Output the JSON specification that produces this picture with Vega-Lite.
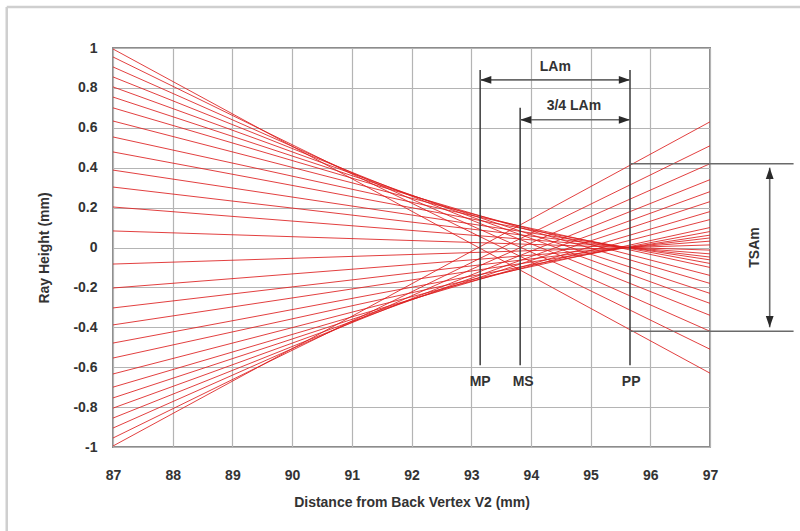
{
  "$schema": "https://vega.github.io/schema/vega-lite/v6.json",
  "autosize": {"type": "none"},
  "width": 597,
  "height": 399,
  "padding": {"left": 113, "top": 48, "right": 90, "bottom": 84},
  "background": "white",
  "config": {
    "view": {"stroke": "#8c8c8c", "strokeWidth": 2},
    "font": "Liberation Sans",
    "axis": {
      "grid": true, "gridColor": "#b4b4b4", "gridWidth": 1.2, "gridOpacity": 1,
      "ticks": false, "domain": false, "labelOverlap": false,
      "labelFont": "Liberation Sans", "labelFontWeight": "bold", "labelFontSize": 14, "labelColor": "#333333",
      "titleFont": "Liberation Sans", "titleFontWeight": "bold", "titleFontSize": 14, "titleColor": "#333333"
    }
  },
  "datasets": {
    "rays": [
      {"ray": "u1", "x": 87, "y": 0.995, "x2": 97, "y2": -0.63},
      {"ray": "u2", "x": 87, "y": 0.955, "x2": 97, "y2": -0.51},
      {"ray": "u3", "x": 87, "y": 0.905, "x2": 97, "y2": -0.42},
      {"ray": "u4", "x": 87, "y": 0.855, "x2": 97, "y2": -0.34},
      {"ray": "u5", "x": 87, "y": 0.805, "x2": 97, "y2": -0.28},
      {"ray": "u6", "x": 87, "y": 0.754, "x2": 97, "y2": -0.23},
      {"ray": "u7", "x": 87, "y": 0.70, "x2": 97, "y2": -0.18},
      {"ray": "u8", "x": 87, "y": 0.634, "x2": 97, "y2": -0.14},
      {"ray": "u9", "x": 87, "y": 0.554, "x2": 97, "y2": -0.10},
      {"ray": "u10", "x": 87, "y": 0.479, "x2": 97, "y2": -0.08},
      {"ray": "u11", "x": 87, "y": 0.388, "x2": 97, "y2": -0.062},
      {"ray": "u12", "x": 87, "y": 0.303, "x2": 97, "y2": -0.048},
      {"ray": "u13", "x": 87, "y": 0.203, "x2": 97, "y2": -0.032},
      {"ray": "u14", "x": 87, "y": 0.083, "x2": 97, "y2": -0.013},
      {"ray": "l1", "x": 87, "y": -0.995, "x2": 97, "y2": 0.63},
      {"ray": "l2", "x": 87, "y": -0.955, "x2": 97, "y2": 0.51},
      {"ray": "l3", "x": 87, "y": -0.905, "x2": 97, "y2": 0.42},
      {"ray": "l4", "x": 87, "y": -0.855, "x2": 97, "y2": 0.34},
      {"ray": "l5", "x": 87, "y": -0.805, "x2": 97, "y2": 0.28},
      {"ray": "l6", "x": 87, "y": -0.754, "x2": 97, "y2": 0.23},
      {"ray": "l7", "x": 87, "y": -0.70, "x2": 97, "y2": 0.18},
      {"ray": "l8", "x": 87, "y": -0.634, "x2": 97, "y2": 0.14},
      {"ray": "l9", "x": 87, "y": -0.554, "x2": 97, "y2": 0.10},
      {"ray": "l10", "x": 87, "y": -0.479, "x2": 97, "y2": 0.08},
      {"ray": "l11", "x": 87, "y": -0.388, "x2": 97, "y2": 0.062},
      {"ray": "l12", "x": 87, "y": -0.303, "x2": 97, "y2": 0.048},
      {"ray": "l13", "x": 87, "y": -0.203, "x2": 97, "y2": 0.032},
      {"ray": "l14", "x": 87, "y": -0.083, "x2": 97, "y2": 0.013}
    ],
    "guides": [
      {"name": "MP", "x": 93.15, "y": 0.89, "x2": 93.15, "y2": -0.59},
      {"name": "MS", "x": 93.82, "y": 0.70, "x2": 93.82, "y2": -0.59},
      {"name": "PP", "x": 95.66, "y": 0.89, "x2": 95.66, "y2": -0.59}
    ],
    "dims": [
      {"name": "LAm", "x": 93.15, "y": 0.84, "x2": 95.66, "y2": 0.84},
      {"name": "3/4 LAm", "x": 93.82, "y": 0.64, "x2": 95.66, "y2": 0.64},
      {"name": "TSA top", "x": 95.66, "y": 0.42, "x2": 98.4, "y2": 0.42},
      {"name": "TSA bottom", "x": 95.66, "y": -0.42, "x2": 98.4, "y2": -0.42},
      {"name": "TSAm", "x": 98.0, "y": 0.40, "x2": 98.0, "y2": -0.40}
    ],
    "arrows": [
      {"x": 93.15, "y": 0.84, "dir": "left"},
      {"x": 95.66, "y": 0.84, "dir": "right"},
      {"x": 93.82, "y": 0.64, "dir": "left"},
      {"x": 95.66, "y": 0.64, "dir": "right"},
      {"x": 98.0, "y": 0.40, "dir": "up"},
      {"x": 98.0, "y": -0.40, "dir": "down"}
    ],
    "labels": [
      {"label": "LAm", "x": 94.41, "y": 0.905},
      {"label": "3/4 LAm", "x": 94.72, "y": 0.71},
      {"label": "MP", "x": 93.15, "y": -0.675},
      {"label": "MS", "x": 93.87, "y": -0.675},
      {"label": "PP", "x": 95.68, "y": -0.675}
    ],
    "vlabels": [
      {"label": "TSAm", "x": 97.75, "y": 0}
    ],
    "frame": [
      {"x": 85.22, "y": 1.2055, "x2": 99.5, "y2": 1.2055},
      {"x": 85.22, "y": 1.2055, "x2": 85.22, "y2": -1.6}
    ]
  },
  "layer": [
    {
      "data": {"name": "rays"},
      "mark": {"type": "rule", "color": "#dd1f1f", "strokeWidth": 1, "opacity": 0.85},
      "encoding": {
        "x": {"field": "x", "type": "quantitative",
              "scale": {"domain": [87, 97], "nice": false, "zero": false},
              "axis": {"title": "Distance from Back Vertex V2 (mm)", "values": [87, 88, 89, 90, 91, 92, 93, 94, 95, 96, 97], "tickCount": 30, "labelPadding": 21, "titlePadding": 13, "labelFlush": false, "labelExpr": "toString(datum.value)"}},
        "y": {"field": "y", "type": "quantitative",
              "scale": {"domain": [-1, 1], "nice": false, "zero": false},
              "axis": {"title": "Ray Height (mm)", "values": [-1, -0.8, -0.6, -0.4, -0.2, 0, 0.2, 0.4, 0.6, 0.8, 1], "tickCount": 30, "labelOverlap": false, "labelPadding": 16, "titlePadding": 21, "labelFlush": false, "labelExpr": "toString(round(datum.value*10)/10)"}},
        "x2": {"field": "x2"},
        "y2": {"field": "y2"},
        "detail": {"field": "ray"}
      }
    },
    {
      "data": {"name": "frame"},
      "mark": {"type": "rule", "color": "#cfcfcf", "strokeWidth": 2.5},
      "encoding": {
        "x": {"field": "x", "type": "quantitative"},
        "y": {"field": "y", "type": "quantitative"},
        "x2": {"field": "x2"},
        "y2": {"field": "y2"}
      }
    },
    {
      "data": {"name": "guides"},
      "mark": {"type": "rule", "color": "#3a3a3a", "strokeWidth": 1.5},
      "encoding": {
        "x": {"field": "x", "type": "quantitative"},
        "y": {"field": "y", "type": "quantitative"},
        "x2": {"field": "x2"},
        "y2": {"field": "y2"}
      }
    },
    {
      "data": {"name": "dims"},
      "mark": {"type": "rule", "color": "#6a6a6a", "strokeWidth": 1.6},
      "encoding": {
        "x": {"field": "x", "type": "quantitative"},
        "y": {"field": "y", "type": "quantitative"},
        "x2": {"field": "x2"},
        "y2": {"field": "y2"}
      }
    },
    {
      "data": {"name": "arrows"},
      "mark": {"type": "point", "filled": true, "size": 500, "color": "#2a2a2a", "opacity": 1},
      "encoding": {
        "x": {"field": "x", "type": "quantitative"},
        "y": {"field": "y", "type": "quantitative"},
        "shape": {"field": "dir", "type": "nominal", "legend": null,
                  "scale": {"domain": ["left", "right", "up", "down"],
                            "range": ["M0,0L1,-0.35L1,0.35Z", "M0,0L-1,-0.35L-1,0.35Z", "M0,0L-0.35,1L0.35,1Z", "M0,0L-0.35,-1L0.35,-1Z"]}}
      }
    },
    {
      "data": {"name": "labels"},
      "mark": {"type": "text", "font": "Liberation Sans", "fontWeight": "bold", "fontSize": 14, "color": "#333333", "align": "center", "baseline": "middle"},
      "encoding": {
        "x": {"field": "x", "type": "quantitative"},
        "y": {"field": "y", "type": "quantitative"},
        "text": {"field": "label", "type": "nominal"}
      }
    },
    {
      "data": {"name": "vlabels"},
      "mark": {"type": "text", "font": "Liberation Sans", "fontWeight": "bold", "fontSize": 14, "color": "#333333", "align": "center", "baseline": "middle", "angle": 270},
      "encoding": {
        "x": {"field": "x", "type": "quantitative"},
        "y": {"field": "y", "type": "quantitative"},
        "text": {"field": "label", "type": "nominal"}
      }
    }
  ]
}
